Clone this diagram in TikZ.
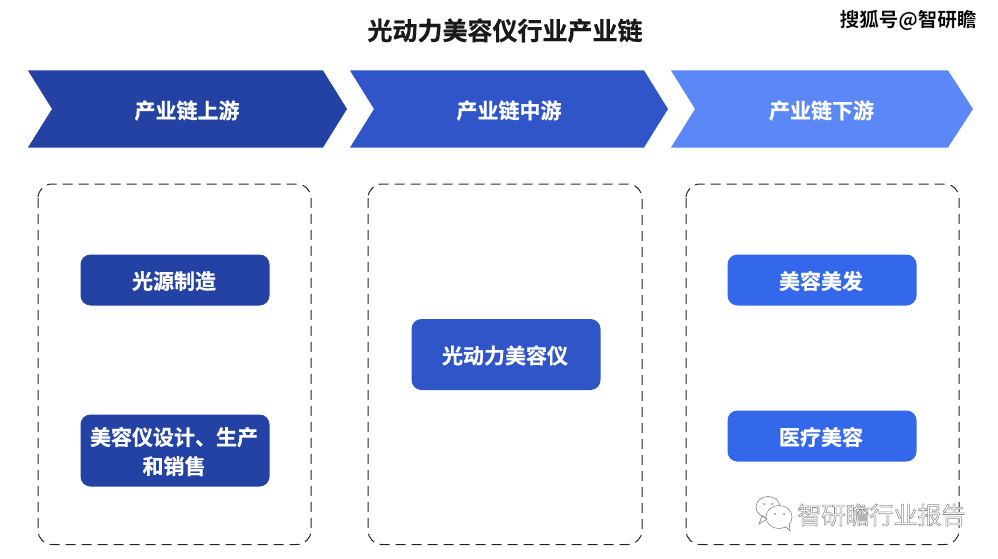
\documentclass[tikz,border=0pt]{standalone}
\usepackage{fontspec}
\setmainfont{Noto Sans CJK SC}[BoldFont={Noto Sans CJK SC Bold}]
\newfontfamily\cjkbold{Noto Sans CJK SC Bold}[FakeBold=0.5]
\newfontfamily\cjkreg{Noto Sans CJK SC}
\definecolor{cup}{HTML}{2342A4}
\definecolor{cmid}{HTML}{2F55C9}
\definecolor{cdown}{HTML}{5C87F6}
\definecolor{bdown}{HTML}{3468EA}
\definecolor{dashc}{HTML}{22252B}
\newcommand{\sohumark}[1]{\special{pdf:code q 1 1 1 RG 0.3 w 2 Tr}#1\special{pdf:code Q}}
\newcommand{\grayoutline}[1]{\special{pdf:code q 0.55 0.55 0.55 RG 1 1 1 rg 0.55 w 2 Tr}#1\special{pdf:code Q}}
\tikzset{
  headtext/.style={text=white,font=\cjkbold\fontsize{21}{25}\selectfont,inner sep=0pt},
  dashbox/.style={draw=dashc,line width=1pt,dash pattern=on 10pt off 6pt,rounded corners=14pt},
  itembox/.style={rounded corners=10pt,minimum width=189pt,text=white,align=center,inner sep=0pt,
    preaction={fill=#1,transform canvas={xshift=1pt,yshift=1pt}},
    font=\cjkbold\fontsize{21}{29}\selectfont},
}
\begin{document}
\begin{tikzpicture}[x=1pt,y=-1pt]
\useasboundingbox (0,0) rectangle (998,559);
\fill[white] (0,0) rectangle (998,559);
% title and marks
\node[inner sep=0pt,text=black!90] (title) at (505,30.5) {\cjkbold\fontsize{25}{30}\selectfont 光动力美容仪行业产业链};
\node[inner sep=0pt] (mark) at (908,20) {\cjkbold\fontsize{19.5}{24}\selectfont \sohumark{搜狐号@智研瞻}};
% chevrons
\fill[cup] (28,70.5) -- (323,70.5) -- (347,109) -- (323,147.5) -- (28,147.5) -- (52,109) -- cycle;
\fill[cmid] (350,70.5) -- (644,70.5) -- (668,109) -- (644,147.5) -- (350,147.5) -- (374,109) -- cycle;
\fill[cdown] (671,70.5) -- (948,70.5) -- (973,109) -- (948,147.5) -- (671,147.5) -- (695,109) -- cycle;
\node[headtext] (h1) at (187,110.5) {产业链上游};
\node[headtext] (h2) at (509,110.5) {产业链中游};
\node[headtext] (h3) at (821.5,110.5) {产业链下游};
% dashed panels
\draw[dashbox] (38,184) rectangle (311,544.5);
\draw[dashbox] (368,184) rectangle (642,544.5);
\draw[dashbox] (686,184) rectangle (959,544.5);
% items
\node[itembox=cup,minimum height=51pt] (a1) at (174,281) {光源制造};
\node[itembox=cup,minimum height=72pt] (a2) at (174,451.5) {美容仪设计、生产\\和销售};
\node[itembox=cmid,minimum height=71pt] (b1) at (505,355.5) {光动力美容仪};
\node[itembox=bdown,minimum height=51pt] (c1) at (821,281) {美容美发};
\node[itembox=bdown,minimum height=51pt] (c2) at (821,437) {医疗美容};
% watermark
\node[inner sep=0pt] (wm) at (881.5,515) {\cjkreg\fontsize{24}{28}\selectfont \grayoutline{智研瞻行业报告}};
\begin{scope}[draw=black!45,line width=0.7pt,fill=white]
\filldraw (768,507) ellipse (12pt and 10.5pt);
\filldraw (762,516) -- (759,524) -- (767,519) -- cycle;
\filldraw (779,517) ellipse (13pt and 11.5pt);
\filldraw (785,526) -- (790,531) -- (789,522) -- cycle;
\fill[white] (779,517) ellipse (12.4pt and 10.9pt);
\fill[black!45] (764,504) circle (1pt) (772,504) circle (1pt) (775,514) circle (1pt) (784,514) circle (1pt);
\end{scope}
\end{tikzpicture}
\end{document}
